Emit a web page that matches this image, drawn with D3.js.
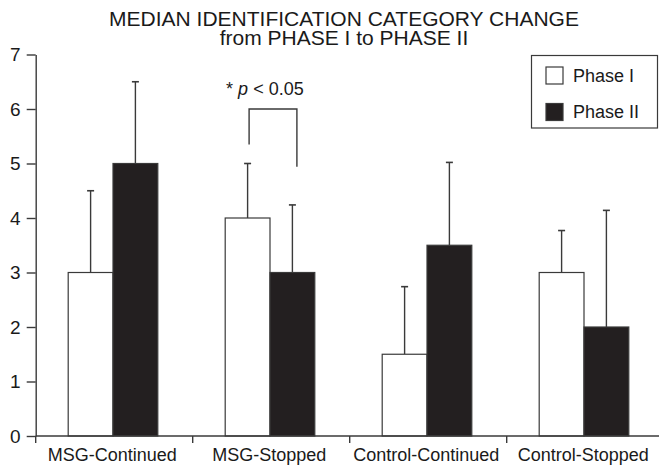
<!DOCTYPE html>
<html>
<head>
<meta charset="utf-8">
<script src="https://cdn.jsdelivr.net/npm/d3@7"></script>
<style>
    body { margin: 0; background: #fff; }
    svg { display: block; font-family: "Liberation Sans", Arial, sans-serif; }
</style>
</head>
<body>
<svg id="chart" width="659" height="468"></svg>
<script>
const CATEGORIES = ["MSG-Continued", "MSG-Stopped", "Control-Continued", "Control-Stopped"];
const SERIES = ["Phase I", "Phase II"];
const PHASE1 = [3, 4, 1.5, 3];
const PHASE2 = [5, 3, 3.5, 2];
const PHASE1_UPPER = [4.5, 5.0, 2.74, 3.77];
const PHASE2_UPPER = [6.5, 4.24, 5.02, 4.14];
const Y_TICKS = [0, 1, 2, 3, 4, 5, 6, 7];
const TITLE = ["MEDIAN IDENTIFICATION CATEGORY CHANGE", "from PHASE I to PHASE II"];
// significance bracket over MSG-Stopped: left leg end, right leg end, top
const SIG = {category: "MSG-Stopped", left: 5.35, right: 4.94, top: 6.0};

const FILLS = {"Phase I": "#ffffff", "Phase II": "#231f20"};
const INK = "#3a3a3a";

let svg = d3.select("#chart");

let y = d3.scaleLinear().domain([0, 7]).range([436, 54.5]);
let x = d3.scaleBand().domain(CATEGORIES).range([35.7, 35.7 + 4 * 157]);
let x1 = d3.scaleBand().domain(SERIES).range([32.5, 32.5 + 89.6]);

// rows for bars
let rows = [];
CATEGORIES.forEach((c, i) => {
    rows.push({cat: c, series: "Phase I", value: PHASE1[i], upper: PHASE1_UPPER[i]});
    rows.push({cat: c, series: "Phase II", value: PHASE2[i], upper: PHASE2_UPPER[i]});
});

// title
svg.append("g").selectAll("text")
    .data(TITLE)
    .enter()
    .append("text")
    .attr("x", 344)
    .attr("y", (d, i) => 25.5 + i * 19.5)
    .attr("text-anchor", "middle")
    .style("font-size", "21px")
    .style("fill", "#1a1a1a")
    .text(d => d);

// error bars (drawn before bars so the black bar hides the part inside)
let err = svg.append("g");
err.selectAll("line.stem")
    .data(rows)
    .enter()
    .append("line")
    .attr("class", "stem")
    .attr("x1", d => x(d.cat) + x1(d.series) + x1.bandwidth() / 2)
    .attr("x2", d => x(d.cat) + x1(d.series) + x1.bandwidth() / 2)
    .attr("y1", d => y(d.value))
    .attr("y2", d => y(d.upper))
    .attr("stroke", INK)
    .attr("stroke-width", 1.4);
err.selectAll("line.cap")
    .data(rows)
    .enter()
    .append("line")
    .attr("class", "cap")
    .attr("x1", d => x(d.cat) + x1(d.series) + x1.bandwidth() / 2 - 3.5)
    .attr("x2", d => x(d.cat) + x1(d.series) + x1.bandwidth() / 2 + 3.5)
    .attr("y1", d => y(d.upper))
    .attr("y2", d => y(d.upper))
    .attr("stroke", INK)
    .attr("stroke-width", 1.6);

// bars
svg.append("g").selectAll("rect")
    .data(rows)
    .enter()
    .append("rect")
    .attr("x", d => x(d.cat) + x1(d.series))
    .attr("y", d => y(d.value))
    .attr("width", x1.bandwidth())
    .attr("height", d => y(0) - y(d.value))
    .attr("fill", d => FILLS[d.series])
    .attr("stroke", INK)
    .attr("stroke-width", 1.2);

// y axis
let yAxis = svg.append("g")
    .attr("transform", "translate(35.7,0)")
    .call(d3.axisLeft(y).tickValues(Y_TICKS).tickFormat(d3.format("d")).tickSize(9).tickSizeOuter(0).tickPadding(6));
yAxis.select(".domain").attr("stroke", INK).attr("stroke-width", 1.4);
yAxis.selectAll(".tick line").attr("stroke", INK).attr("stroke-width", 1.4);
yAxis.selectAll(".tick text")
    .style("font-size", "19px")
    .style("font-family", "'Liberation Sans', Arial, sans-serif")
    .attr("fill", "#1a1a1a");

// x axis: baseline, category boundary ticks and labels
let xAxis = svg.append("g");
xAxis.append("line")
    .attr("x1", x.range()[0])
    .attr("x2", 659)
    .attr("y1", y(0))
    .attr("y2", y(0))
    .attr("stroke", INK)
    .attr("stroke-width", 1.4);
xAxis.selectAll("line.tick")
    .data(CATEGORIES)
    .enter()
    .append("line")
    .attr("class", "tick")
    .attr("x1", d => x(d))
    .attr("x2", d => x(d))
    .attr("y1", y(0))
    .attr("y2", y(0) + 7)
    .attr("stroke", INK)
    .attr("stroke-width", 1.4);
xAxis.selectAll("text")
    .data(CATEGORIES)
    .enter()
    .append("text")
    .attr("x", d => x(d) + x.bandwidth() / 2 - 2)
    .attr("y", 461)
    .attr("text-anchor", "middle")
    .style("font-size", "18px")
    .style("fill", "#1a1a1a")
    .text(d => d);

// significance bracket
let bx1 = x(SIG.category) + x1("Phase I") + x1.bandwidth() / 2 + 1.5;
let bx2 = x(SIG.category) + x1("Phase II") + x1.bandwidth() / 2 + 4.5;
svg.append("path")
    .attr("d", d3.line()([[bx1, y(SIG.left)], [bx1, y(SIG.top)], [bx2, y(SIG.top)], [bx2, y(SIG.right)]]))
    .attr("fill", "none")
    .attr("stroke", INK)
    .attr("stroke-width", 1.4);
let sig = svg.append("text")
    .attr("x", bx1 - 23)
    .attr("y", 95)
    .style("font-size", "18px")
    .style("fill", "#1a1a1a");
sig.append("tspan").text("* ");
sig.append("tspan").style("font-style", "italic").text("p");
sig.append("tspan").text(" < 0.05");

// legend
let legend = svg.append("g");
legend.append("rect")
    .attr("x", 531.5)
    .attr("y", 55.5)
    .attr("width", 126)
    .attr("height", 72.5)
    .attr("fill", "#fff")
    .attr("stroke", INK)
    .attr("stroke-width", 1.2);
let items = legend.selectAll("g.item")
    .data(SERIES)
    .enter()
    .append("g")
    .attr("class", "item")
    .attr("transform", (d, i) => "translate(546," + (67 + i * 36.5) + ")");
items.append("rect")
    .attr("width", 17)
    .attr("height", 17)
    .attr("fill", d => FILLS[d])
    .attr("stroke", INK)
    .attr("stroke-width", 1.2);
items.append("text")
    .attr("x", 27)
    .attr("y", 14.5)
    .style("font-size", "18px")
    .style("fill", "#1a1a1a")
    .text(d => d);
</script>
</body>
</html>
